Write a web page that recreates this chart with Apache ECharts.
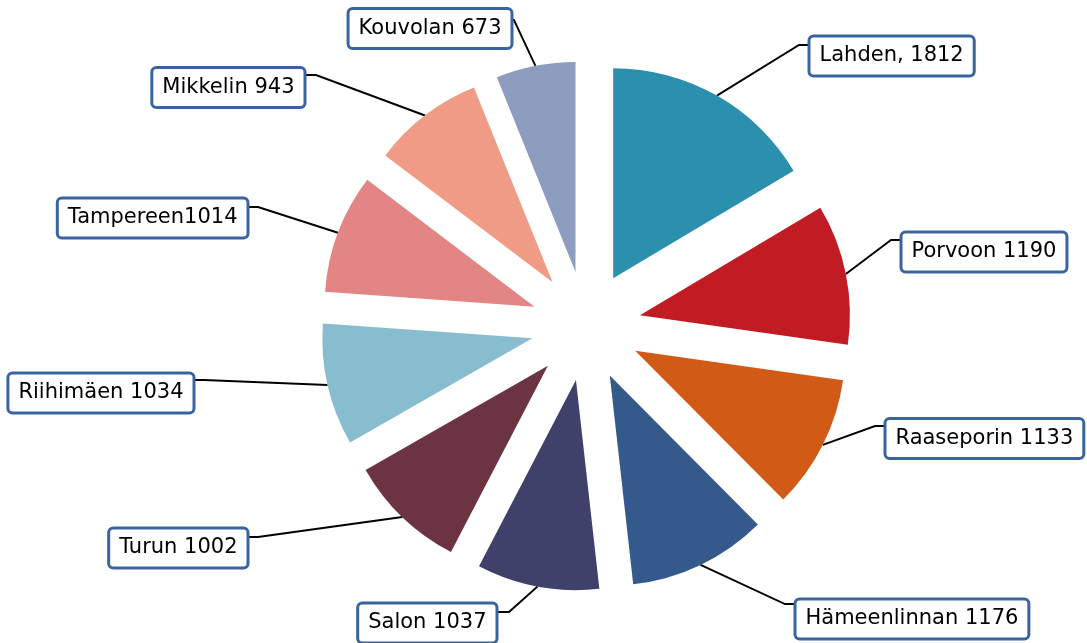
<!DOCTYPE html>
<html>
<head>
<meta charset="utf-8">
<script src="https://cdn.jsdelivr.net/npm/echarts@6/dist/echarts.min.js"></script>
<style>
html,body{margin:0;padding:0;background:#fff;}
#c{width:1087px;height:643px;}
</style>
</head>
<body>
<div id="c"></div>
<script>
// ---- data ----
var categories = ['Lahden,', 'Porvoon', 'Raaseporin', 'Hämeenlinnan', 'Salon', 'Turun', 'Riihimäen', 'Tampereen', 'Mikkelin', 'Kouvolan'];
var values = [1812, 1190, 1133, 1176, 1037, 1002, 1034, 1014, 943, 673];
var labelTexts = ['Lahden, 1812', 'Porvoon 1190', 'Raaseporin 1133', 'Hämeenlinnan 1176', 'Salon 1037', 'Turun 1002', 'Riihimäen 1034', 'Tampereen1014', 'Mikkelin 943', 'Kouvolan 673'];

// ---- styles / layout ----
var colors = ['#2a90ad', '#c11b24', '#d25a17', '#345a8c', '#3f416a', '#6c3442', '#88bccf', '#e38585', '#ef9b85', '#8d9dbd'];
var CX = 586, CY = 326, R = 210, D = 55;
// label box layout: side ('L' = box anchored by left edge, 'R' = by right edge), edge x, center y, line attach y, elbow length
var labelBoxes = [
  ['L', 809, 56, 45, 10],
  ['L', 901, 252, 240, 10],
  ['L', 885, 438.5, 426, 10],
  ['L', 795, 619, 604, 10],
  ['R', 497, 623, 612, 12],
  ['R', 248, 548, 537, 10],
  ['R', 194, 393, 380, 10],
  ['R', 248, 218, 207, 10],
  ['R', 305, 87.5, 75, 11],
  ['R', 512, 28.5, 20, 2]
];

var total = values.reduce(function (a, b) { return a + b; }, 0);
var mids = [];
var cum = 0;
values.forEach(function (v) {
  mids.push((cum + v / 2) / total * 2 * Math.PI);
  cum += v;
});

var chart = echarts.init(document.getElementById('c'), null, {renderer: 'canvas'});
var series = values.map(function (_, i) {
  var a = mids[i];
  var cx = CX + D * Math.sin(a), cy = CY - D * Math.cos(a);
  var arcX = cx + R * Math.sin(a), arcY = cy - R * Math.cos(a);
  var b = labelBoxes[i];
  return {
    type: 'pie',
    silent: true,
    animation: false,
    center: [cx, cy],
    radius: R,
    startAngle: 90,
    clockwise: true,
    avoidLabelOverlap: false,
    emphasis: {disabled: true},
    itemStyle: {borderWidth: 0},
    label: {
      show: true,
      position: 'outside',
      formatter: function (p) { return labelTexts[p.dataIndex]; },
      fontFamily: 'DejaVu Sans',
      fontSize: 21,
      lineHeight: 25,
      color: '#000',
      backgroundColor: '#fff',
      borderColor: '#3a64a0',
      borderWidth: 3,
      borderRadius: 3,
      padding: [6, 9, 6, 9]
    },
    labelLine: {show: true, lineStyle: {color: '#000', width: 1.9}},
    labelLayout: function (params) {
      var edge = b[1];
      var sign = b[0] === 'L' ? -1 : 1;
      return {
        x: b[0] === 'L' ? edge + 1.5 : edge - 1.5,
        y: b[2],
        align: b[0] === 'L' ? 'left' : 'right',
        verticalAlign: 'middle',
        labelLinePoints: [[arcX, arcY], [edge + sign * b[4], b[3]], [edge, b[3]]]
      };
    },
    data: values.map(function (v, j) {
      return {
        value: v,
        name: categories[j],
        itemStyle: {color: j === i ? colors[j] : 'rgba(0,0,0,0)'},
        label: {show: j === i},
        labelLine: {show: j === i}
      };
    })
  };
});

chart.setOption({
  backgroundColor: '#fff',
  animation: false,
  series: series
});
</script>
</body>
</html>
